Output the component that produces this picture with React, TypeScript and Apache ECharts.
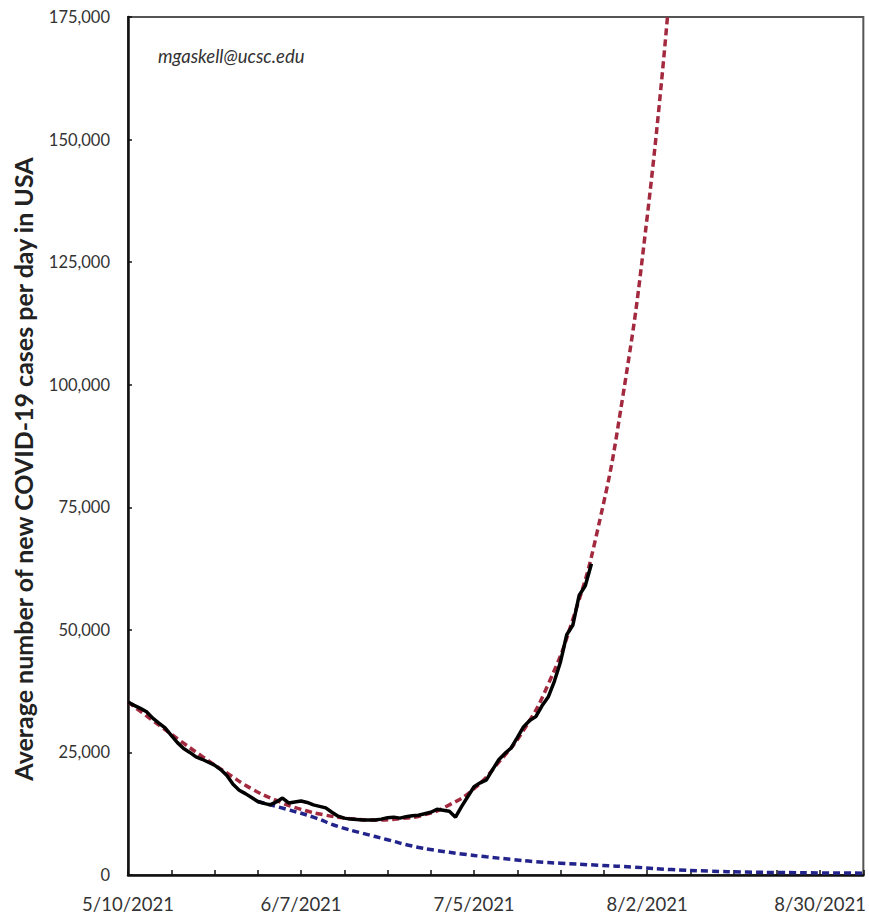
import React, { useEffect, useRef } from "react";
import * as echarts from "echarts";

// Days since 5/10/2021
const START_DATE = Date.UTC(2021, 4, 10);

// Observed 7-day average of new cases (one value per day from day 0)
const observedValues = [
  35300, 34600, 34000, 33300, 32000, 31000, 30000, 28500, 27000, 25800,
  25000, 24100, 23600, 23000, 22400, 21500, 20300, 18500, 17300, 16600,
  15800, 15000, 14600, 14300, 14900, 15700, 14700, 14900, 15100, 14800,
  14300, 14000, 13700, 12800, 12000, 11600, 11400, 11300, 11200, 11200,
  11200, 11400, 11700, 11800, 11600, 11900, 12100, 12200, 12500, 12800,
  13400, 13200, 13000, 11800, 14000, 16000, 18000, 18800, 19400, 21500,
  23500, 24800, 25900, 28000, 30200, 31500, 32300, 34500, 36300, 39500,
  43500, 49000, 51000, 57000, 59000, 63500,
];

// Red dashed fit (decline + growth)
const redDays = [0, 4, 8, 12, 16, 20, 24, 28, 32, 36, 40, 44, 48, 52, 56, 60, 64, 68, 72, 76, 80, 84, 87.3];
const redValues = [35300, 31500, 27800, 24200, 20800, 17600, 15200, 13400, 12200, 11500, 11200, 11500, 12300, 14300, 17600, 23000, 29500, 38900, 52200, 70400, 97000, 134000, 175000];

// Blue dashed fit (decline only)
const blueDays = [21, 26, 30, 34, 38, 42, 46, 50, 54, 58, 62, 66, 70, 76, 82, 88, 94, 100, 106, 112, 119];
const blueValues = [15000, 13300, 11800, 9900, 8500, 7200, 5900, 5000, 4300, 3700, 3200, 2700, 2400, 2000, 1600, 1100, 800, 600, 500, 420, 380];

const xMin = 0;
const xMax = 119;
const xTickStep = 7;
const xLabelStep = 28;
const yMax = 175000;
const yStep = 25000;

const yTitle = "Average number of new COVID-19 cases per day in USA";
const credit = "mgaskell@ucsc.edu";

function fmtDate(d: number): string {
  const dt = new Date(START_DATE + d * 86400000);
  return `${dt.getUTCMonth() + 1}/${dt.getUTCDate()}/${dt.getUTCFullYear()}`;
}

export default function App() {
  const ref = useRef<HTMLDivElement>(null);
  useEffect(() => {
    if (!ref.current) return;
    const chart = echarts.init(ref.current, null, { renderer: "svg" });
    const font = "Lato, 'Open Sans', sans-serif";
    chart.setOption({
      animation: false,
      backgroundColor: "#ffffff",
      grid: {
        left: 128,
        top: 17,
        right: 2,
        bottom: 46,
        show: true,
        borderColor: "#555",
        borderWidth: 2,
        backgroundColor: "transparent",
      },
      xAxis: {
        type: "value",
        min: xMin,
        max: xMax,
        interval: xTickStep,
        splitLine: { show: false },
        axisLine: { lineStyle: { color: "#111", width: 2.5 } },
        axisTick: { inside: true, length: 5, lineStyle: { color: "#111", width: 1.5 } },
        axisLabel: {
          margin: 19,
          fontSize: 18.5,
          fontFamily: font,
          color: "#333",
          formatter: (v: number) => (Math.round(v) % xLabelStep === 0 ? fmtDate(v) : ""),
        },
      },
      yAxis: {
        type: "value",
        min: 0,
        max: yMax,
        interval: yStep,
        splitLine: { show: false },
        axisLine: { show: true, lineStyle: { color: "#111", width: 2.5 } },
        axisTick: { show: true, inside: true, length: 4, lineStyle: { color: "#111", width: 1.5 } },
        axisLabel: {
          margin: 18,
          fontSize: 16.5,
          fontFamily: font,
          color: "#333",
          formatter: (v: number) => v.toLocaleString("en-US"),
        },
      },
      graphic: [
        {
          type: "text",
          x: 23,
          y: 469,
          rotation: Math.PI / 2,
          style: {
            text: yTitle,
            fontSize: 25,
            fontWeight: "bold",
            fontFamily: font,
            fill: "#222",
            textAlign: "center",
            textVerticalAlign: "middle",
          },
        },
        {
          type: "text",
          x: 158,
          y: 56,
          style: {
            text: credit,
            fontSize: 18.5,
            fontStyle: "italic",
            fontFamily: font,
            fill: "#333",
            textAlign: "left",
            textVerticalAlign: "middle",
          },
        },
      ],
      series: [
        {
          type: "line",
          data: blueDays.map((d, i) => [d, blueValues[i]]),
          smooth: true,
          showSymbol: false,
          lineStyle: { color: "#23238c", width: 3.5, type: [7, 4] },
          z: 2,
        },
        {
          type: "line",
          data: redDays.map((d, i) => [d, redValues[i]]),
          smooth: true,
          showSymbol: false,
          lineStyle: { color: "#a3293f", width: 3.5, type: [7, 4] },
          z: 3,
        },
        {
          type: "line",
          data: observedValues.map((v, i) => [i, v]),
          smooth: false,
          showSymbol: false,
          lineStyle: { color: "#000", width: 3.5 },
          z: 4,
        },
      ],
    });
    return () => chart.dispose();
  }, []);
  return <div ref={ref} style={{ width: 869, height: 921, position: "absolute", left: 0, top: 0 }} />;
}
